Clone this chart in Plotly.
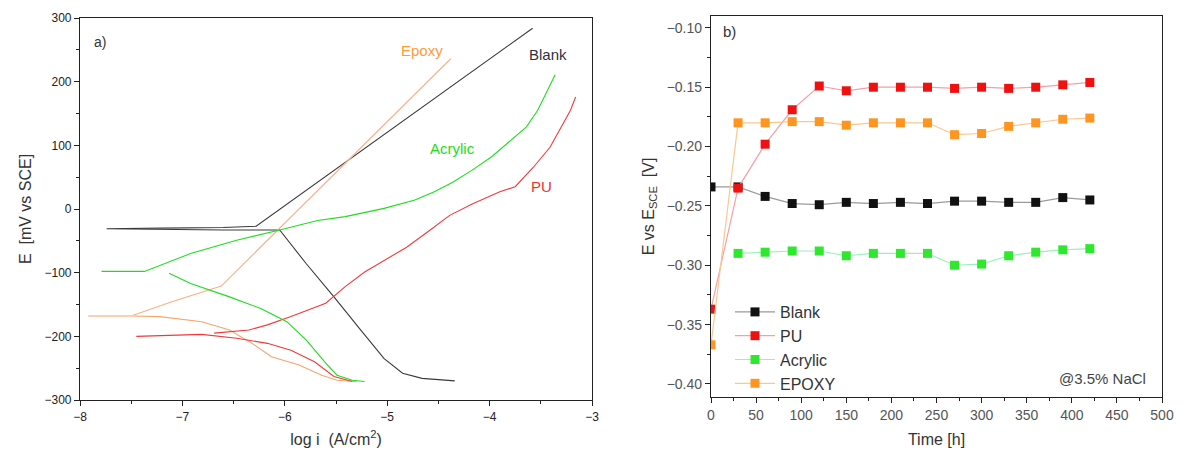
import plotly.graph_objects as go

# ---------------- Panel a) Tafel curves (log i, E mV) ----------------
blank_logi = [-4.34, -4.50, -4.66, -4.85, -5.03, -5.26, -5.52, -5.79, -6.05, -6.60, -7.20, -7.74,
              -7.20, -6.60, -6.28, -3.58]
blank_E = [-270, -268, -266, -258, -235, -190, -138, -86, -33, -33, -32, -31,
           -30, -29, -27, 284]

epoxy_cat_logi = [-5.30, -5.49, -5.64, -5.86, -6.13, -6.32, -6.54, -6.81, -7.22, -7.48, -7.92]
epoxy_cat_E = [-271, -269, -261, -245, -232, -211, -190, -177, -169, -168, -168]
epoxy_an_logi = [-7.48, -7.11, -6.62, -4.38]
epoxy_an_E = [-167, -146, -121, 236]

pu_cat_logi = [-5.34, -5.52, -5.71, -5.94, -6.17, -6.47, -6.81, -7.10, -7.45]
pu_cat_E = [-271, -263, -240, -222, -211, -203, -197, -198, -200]
pu_an_logi = [-6.69, -6.35, -6.17, -5.94, -5.60, -5.41, -5.22, -5.03, -4.81, -4.58, -4.39,
              -4.17, -3.90, -3.75, -3.57, -3.41, -3.30, -3.21, -3.16]
pu_an_E = [-195, -190, -182, -169, -148, -122, -99, -81, -60, -33, -10,
           8, 27, 35, 66, 97, 129, 155, 176]

acr_cat_logi = [-5.22, -5.34, -5.49, -5.60, -5.79, -5.98, -6.24, -6.54, -6.92, -7.13]
acr_cat_E = [-271, -269, -261, -242, -206, -177, -156, -138, -117, -101]
acr_an_logi = [-7.79, -7.37, -6.92, -6.47, -6.05, -5.68, -5.41, -5.03, -4.73, -4.54, -4.36,
               -4.17, -3.98, -3.79, -3.64, -3.53, -3.45, -3.36]
acr_an_E = [-98, -98, -70, -49, -33, -18, -12, 1, 14, 27, 42,
            61, 82, 108, 129, 155, 181, 211]

# ---------------- Panel b) OCP vs time ----------------
time_h = [0, 30, 60, 90, 120, 150, 180, 210, 240, 270, 300, 330, 360, 390, 420]
blank_ocp = [-0.234, -0.234, -0.242, -0.248, -0.249, -0.247, -0.248, -0.247, -0.248,
             -0.246, -0.246, -0.247, -0.247, -0.243, -0.245]
pu_ocp = [-0.337, -0.235, -0.198, -0.169, -0.149, -0.153, -0.150, -0.150, -0.150,
          -0.151, -0.150, -0.151, -0.150, -0.148, -0.146]
acr_time = [30, 60, 90, 120, 150, 180, 210, 240, 270, 300, 330, 360, 390, 420]
acr_ocp = [-0.290, -0.289, -0.288, -0.288, -0.292, -0.290, -0.290, -0.290,
           -0.300, -0.299, -0.292, -0.289, -0.287, -0.286]
epoxy_ocp = [-0.367, -0.180, -0.180, -0.179, -0.179, -0.182, -0.180, -0.180, -0.180,
             -0.190, -0.189, -0.183, -0.180, -0.177, -0.176]

FONT = "Liberation Sans, Arial, sans-serif"
W, H = 1170, 440   # page body has an 8px margin
OFF = 8

def px_x(p):
    return (p - OFF) / W

def px_y(p):
    return 1 - (p - OFF) / H

fig = go.Figure()

def tafel(x, y, color):
    fig.add_trace(go.Scatter(x=x, y=y, mode="lines", line=dict(color=color, width=1.1),
                             showlegend=False, xaxis="x", yaxis="y", hoverinfo="skip"))

tafel(blank_logi, blank_E, "#3a3a3a")
tafel(epoxy_cat_logi, epoxy_cat_E, "#f7a46e")
tafel(epoxy_an_logi, epoxy_an_E, "#f9b088")
tafel(pu_cat_logi, pu_cat_E, "#f03a3a")
tafel(pu_an_logi, pu_an_E, "#f03a3a")
tafel(acr_cat_logi, acr_cat_E, "#1fdc1f")
tafel(acr_an_logi, acr_an_E, "#1fdc1f")

def ocp(x, y, name, lcol, mcol):
    fig.add_trace(go.Scatter(x=x, y=y, mode="lines+markers", name=name,
                             line=dict(color=lcol, width=1.2),
                             marker=dict(symbol="square", size=9, color=mcol, line=dict(width=0)),
                             xaxis="x2", yaxis="y2"))

ocp(time_h, blank_ocp, "Blank", "#9a9a9a", "#111111")
ocp(time_h, pu_ocp, "PU", "#f5a0a8", "#f01010")
ocp(acr_time, acr_ocp, "Acrylic", "#9df0bd", "#2ee82e")
ocp(time_h, epoxy_ocp, "EPOXY", "#f8c890", "#ff9520")

axcommon = dict(showline=True, linecolor="#222", linewidth=1.2, mirror=True, automargin=False,
                ticks="outside", ticklen=5, tickcolor="#222", showgrid=False, zeroline=False)

fig.update_layout(
    width=W, height=H,
    margin=dict(l=0, r=0, t=0, b=0),
    paper_bgcolor="white", plot_bgcolor="white",
    font=dict(family=FONT, color="#333"),
    xaxis=dict(domain=[px_x(80), px_x(592)], range=[-8, -3], dtick=1, anchor="y",
               minor=dict(dtick=0.5, ticks="outside", ticklen=3, tickcolor="#222"),
               tickfont=dict(size=12, color="#222"),
               title=dict(text="log i  (A/cm<sup>2</sup>)", font=dict(size=16, color="#333"), standoff=18),
               **axcommon),
    yaxis=dict(domain=[px_y(400), px_y(18)], range=[-300, 300], dtick=100, anchor="x",
               minor=dict(dtick=50, ticks="outside", ticklen=3, tickcolor="#222"),
               tickfont=dict(size=12, color="#222"),
               title=dict(text="E  [mV vs SCE]", font=dict(size=16, color="#333"), standoff=8),
               **axcommon),
    xaxis2=dict(domain=[px_x(711), px_x(1162)], range=[0, 500], dtick=50, anchor="y2",
                minor=dict(dtick=25, ticks="outside", ticklen=3, tickcolor="#222"),
                tickfont=dict(size=14, color="#555"),
                title=dict(text="Time [h]", font=dict(size=16, color="#333"), standoff=18),
                **axcommon),
    yaxis2=dict(domain=[px_y(397), px_y(16)], range=[-0.411, -0.090], dtick=0.05, anchor="x2",
                tick0=-0.1, tickformat=".2f",
                minor=dict(dtick=0.025, ticks="outside", ticklen=3, tickcolor="#222"),
                tickfont=dict(size=14, color="#555"),
                title=dict(text="E vs E<sub>SCE</sub>  [V]", font=dict(size=16, color="#333"), standoff=8),
                **axcommon),
    legend=dict(x=px_x(730), y=px_y(295), xanchor="left", yanchor="top",
                font=dict(size=16, color="#333"), bgcolor="rgba(0,0,0,0)",
                itemwidth=40, tracegroupgap=0),
    annotations=[
        dict(text="a)", x=-7.8, y=262, xref="x", yref="y", showarrow=False,
             font=dict(size=14, color="#333"), xanchor="center"),
        dict(text="Epoxy", x=-4.66, y=249, xref="x", yref="y", showarrow=False,
             font=dict(size=15, color="#ff9a3c"), xanchor="center"),
        dict(text="Blank", x=-3.43, y=242, xref="x", yref="y", showarrow=False,
             font=dict(size=15, color="#2b3340"), xanchor="center"),
        dict(text="Acrylic", x=-4.36, y=95, xref="x", yref="y", showarrow=False,
             font=dict(size=15, color="#22dd22"), xanchor="center"),
        dict(text="PU", x=-3.49, y=35, xref="x", yref="y", showarrow=False,
             font=dict(size=15, color="#f03030"), xanchor="center"),
        dict(text="b)", x=20, y=-0.103, xref="x2", yref="y2", showarrow=False,
             font=dict(size=15, color="#333"), xanchor="center"),
        dict(text="@3.5% NaCl", x=485, y=-0.395, xref="x2", yref="y2", showarrow=False,
             font=dict(size=15, color="#444"), xanchor="right"),
    ],
)

fig.write_html("out.html")
